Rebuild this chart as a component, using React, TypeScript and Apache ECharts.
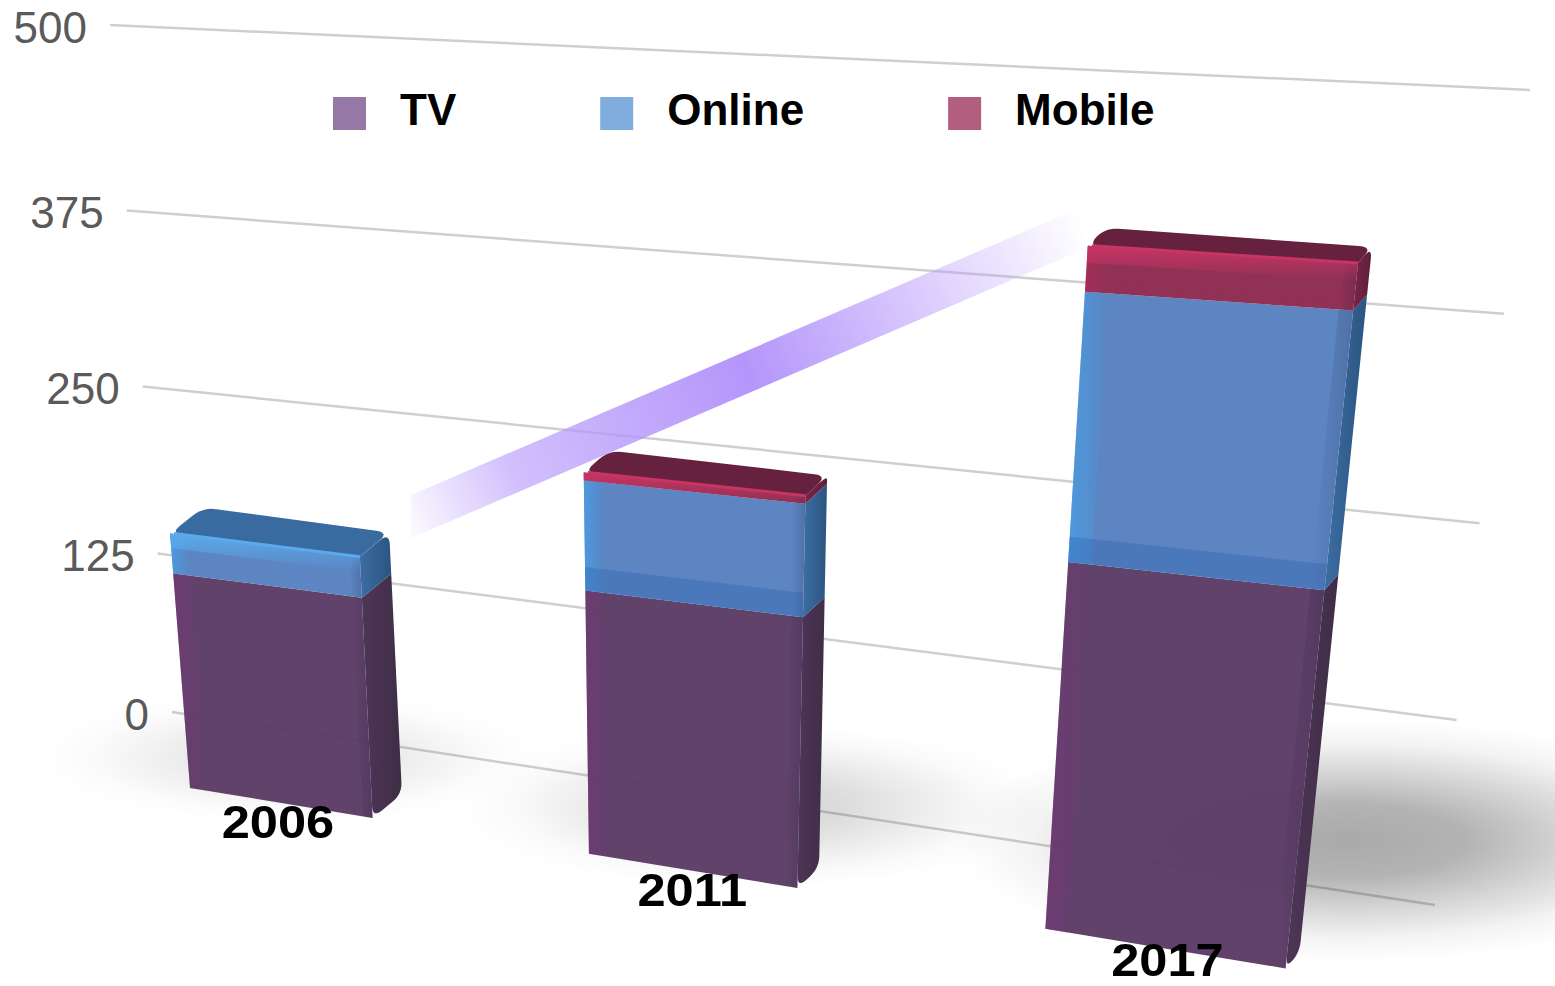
import React, { useEffect, useRef } from "react";
import * as echarts from "echarts";

// Ad spend by channel, stacked per year
const years = ["2006", "2011", "2017"];
const tvValues = [145, 168, 220];
const onlineValues = [27, 70, 160];
const mobileValues = [0, 5, 27];
const yTicks = [0, 125, 250, 375, 500];
const legendNames = ["TV", "Online", "Mobile"];

const WIDTH = 1555;
const HEIGHT = 986;
const Y_MAX = 500;
const BAR_RATIO = 0.474;
const FONT = '"Liberation Sans", Arial, sans-serif';
// Square swatch sitting low in a taller symbol box, so it hangs below the legend text's centre
const SWATCH = "path://M0,0 L0,0 M0,9 L33,9 L33,42 L0,42 Z";

type Pt = [number, number];

// Projective map of the unit square onto a quad given as (0,0), (1,0), (1,1), (0,1)
function homography(p0: Pt, p1: Pt, p2: Pt, p3: Pt) {
  const dx1 = p1[0] - p2[0];
  const dx2 = p3[0] - p2[0];
  const dx3 = p0[0] - p1[0] + p2[0] - p3[0];
  const dy1 = p1[1] - p2[1];
  const dy2 = p3[1] - p2[1];
  const dy3 = p0[1] - p1[1] + p2[1] - p3[1];
  const det = dx1 * dy2 - dx2 * dy1;
  const g = (dx3 * dy2 - dx2 * dy3) / det;
  const h = (dx1 * dy3 - dx3 * dy1) / det;
  const a = p1[0] - p0[0] + g * p1[0];
  const b = p3[0] - p0[0] + h * p3[0];
  const d = p1[1] - p0[1] + g * p1[1];
  const e = p3[1] - p0[1] + h * p3[1];
  return (u: number, v: number): Pt => {
    const w = g * u + h * v + 1;
    return [(a * u + b * v + p0[0]) / w, (d * u + e * v + p0[1]) / w];
  };
}

// Tilted wall carrying the gridlines, and the plane of the bars' front faces
const wall = homography([172, 712], [1435, 905], [1530, 90], [110, 25]);
const frontQuad = homography([190, 788], [1283, 968], [1372, 98], [132, 48]);

// Front faces keep an even height per unit, so the value scale is straightened along each edge
const FRONT_K = 0.1074;
const front = (u: number, v: number): Pt => frontQuad(u, v / (1 - FRONT_K + FRONT_K * v));

const toPlaneU = (px: number, sys: any) => ((px - sys.x) / sys.width) * 1.215 - 0.1065;
const toPlaneV = (py: number, sys: any) => (sys.y + sys.height - py) / sys.height;

// Offset from a bar's front face to its back face
const depth = (u: number): Pt => [33 - 19 * u, -26 + 10 * u];

const back = (p: Pt, u: number): Pt => {
  const d = depth(u);
  return [p[0] + d[0], p[1] + d[1]];
};

// Replaces the listed corners of a polygon by sampled quadratic curves
function rounded(points: Pt[], r: number, corners?: number[]): number[][] {
  const out: number[][] = [];
  const n = points.length;
  for (let i = 0; i < n; i++) {
    const p = points[i];
    if (corners && !corners.includes(i)) {
      out.push(p);
      continue;
    }
    const a = points[(i + n - 1) % n];
    const b = points[(i + 1) % n];
    const la = Math.hypot(a[0] - p[0], a[1] - p[1]);
    const lb = Math.hypot(b[0] - p[0], b[1] - p[1]);
    const ra = Math.min(r, la / 2);
    const rb = Math.min(r, lb / 2);
    const s: Pt = [p[0] + ((a[0] - p[0]) * ra) / la, p[1] + ((a[1] - p[1]) * ra) / la];
    const t: Pt = [p[0] + ((b[0] - p[0]) * rb) / lb, p[1] + ((b[1] - p[1]) * rb) / lb];
    for (let k = 0; k <= 6; k++) {
      const q = k / 6;
      const m = 1 - q;
      out.push([
        m * m * s[0] + 2 * m * q * p[0] + q * q * t[0],
        m * m * s[1] + 2 * m * q * p[1] + q * q * t[1],
      ]);
    }
  }
  return out;
}

const totalOf = (i: number) => tvValues[i] + onlineValues[i] + mobileValues[i];

const barFaces = {
  TV: {
    face: "#5c3c66",
    edge: "rgba(122,52,122,0.5)",
    side: ["#4e3557", "#3f2e46"],
    cap: "#4f2f5c",
    glint: "rgba(140,90,160,0.5)",
  },
  Online: {
    face: "#5781bf",
    edge: "rgba(70,160,232,0.75)",
    side: ["#3c6da3", "#2b5480"],
    cap: "#3a6ba0",
    glint: "rgba(90,170,236,1)",
  },
  Mobile: {
    face: "#8c2a50",
    edge: "rgba(190,40,90,0.4)",
    side: ["#7a2446", "#5f1f3a"],
    cap: "#66213f",
    glint: "rgba(200,52,100,1)",
  },
} as const;

const poly = (points: number[][], style: any) => ({
  type: "polygon",
  silent: true,
  shape: { points },
  style,
});

// One stacked block: side face, front face with its shading, and the lid when it ends the stack
function segmentRenderer(name: keyof typeof barFaces) {
  const colors = barFaces[name];
  return (params: any, api: any) => {
    const cat = api.value(0);
    const lo = api.value(1);
    const hi = api.value(2);
    if (hi <= lo) return null;
    const isTop = hi === totalOf(cat);
    const sys = params.coordSys;
    const half = (api.size([1, 0])[0] * BAR_RATIO) / 2;
    const bottomPx = api.coord([cat, lo]);
    const topPx = api.coord([cat, hi]);
    const uL = toPlaneU(bottomPx[0] - half, sys);
    const uR = toPlaneU(bottomPx[0] + half, sys);
    const vB = toPlaneV(bottomPx[1], sys);
    const vT = toPlaneV(topPx[1], sys);
    const bl = front(uL, vB);
    const br = front(uR, vB);
    const tr = front(uR, vT);
    const tl = front(uL, vT);
    const children: any[] = [];

    const sidePoints: Pt[] = [br, tr, back(tr, uR), back(br, uR)];
    const sideCorners = [...(lo === 0 ? [0, 3] : []), ...(isTop ? [2] : [])];
    children.push(
      poly(rounded(sidePoints, 12, sideCorners), {
        fill: new echarts.graphic.LinearGradient(0, 0, 1, 0, [
          { offset: 0, color: colors.side[0] },
          { offset: 1, color: colors.side[1] },
        ]),
      })
    );

    children.push(poly([bl, br, tr, tl], { fill: colors.face, opacity: 0.97 }));

    // Lit strip down the left of the front face
    const stripU = uL + 0.018;
    children.push(
      poly([bl, front(stripU, vB), front(stripU, vT), tl], {
        fill: new echarts.graphic.LinearGradient(0, 0, 1, 0, [
          { offset: 0, color: colors.edge },
          { offset: 1, color: colors.edge.replace(/[\d.]+\)$/, "0)") },
        ]),
      })
    );

    // Faint rim where the front turns into the side
    const rimU = uR - 0.01;
    children.push(
      poly([front(rimU, vB), br, tr, front(rimU, vT)], {
        fill: new echarts.graphic.LinearGradient(0, 0, 1, 0, [
          { offset: 0, color: "rgba(20,20,50,0)" },
          { offset: 1, color: "rgba(20,20,50,0.18)" },
        ]),
      })
    );

    // Darker band along the foot of tall blue blocks
    if (name === "Online" && hi - lo > 50) {
      const vBand = toPlaneV(api.coord([cat, lo + 15])[1], sys);
      children.push(
        poly([bl, br, front(uR, vBand), front(uL, vBand)], { fill: "rgba(40,92,170,0.32)" })
      );
    }

    if (isTop) {
      children.push(
        poly(rounded([tl, tr, back(tr, uR), back(tl, uL)], 13, [0, 2, 3]), { fill: colors.cap })
      );
      const vShine = toPlaneV(api.coord([cat, Math.max(lo, hi - 10)])[1], sys);
      children.push(
        poly([tl, tr, front(uR, vShine), front(uL, vShine)], {
          fill: new echarts.graphic.LinearGradient(0, 0, 0, 1, [
            { offset: 0, color: colors.glint },
            { offset: 1, color: colors.glint.replace(/[\d.]+\)$/, "0)") },
          ]),
        })
      );
      children.push({
        type: "line",
        silent: true,
        shape: { x1: tl[0] + 4, y1: tl[1], x2: tr[0], y2: tr[1] },
        style: { stroke: colors.glint, lineWidth: 3 },
      });
    }
    return { type: "group", children };
  };
}

function renderWall(_params: any, api: any) {
  const value = api.value(0);
  const v = value / Y_MAX;
  const a = wall(0, v);
  const b = wall(1, v);
  return {
    type: "group",
    children: [
      {
        type: "line",
        silent: true,
        shape: { x1: a[0], y1: a[1], x2: b[0], y2: b[1] },
        style: { stroke: "#cfcfcf", lineWidth: 2.5 },
      },
      {
        type: "text",
        silent: true,
        style: {
          text: String(value),
          x: a[0] - 23,
          y: a[1] + 2,
          fill: "#5a5a5a",
          font: `44px ${FONT}`,
          textAlign: "right",
          textVerticalAlign: "middle",
        },
      },
    ],
  };
}

// Soft floor shadow cast by each bar, growing with its total
function renderShadow(params: any, api: any) {
  const cat = api.value(0);
  const total = api.value(1);
  const sys = params.coordSys;
  const foot = api.coord([cat, 0]);
  const base = front(toPlaneU(foot[0], sys), toPlaneV(foot[1], sys));
  const alpha = 0.06 + (total * total) / 600000;
  const tone = (k: number) => `rgba(0,0,0,${alpha * k})`;
  return {
    type: "ellipse",
    silent: true,
    shape: {
      cx: base[0] + 0.75 * total - 120,
      cy: base[1] - 0.265 * total,
      rx: 0.6 * total + 150,
      ry: 0.24 * total + 24,
    },
    style: {
      fill: new echarts.graphic.RadialGradient(0.5, 0.5, 0.5, [
        { offset: 0, color: tone(1) },
        { offset: 0.3, color: tone(0.88) },
        { offset: 0.55, color: tone(0.5) },
        { offset: 0.8, color: tone(0.14) },
        { offset: 1, color: tone(0) },
      ]),
    },
  };
}

// Growth ribbon running from the first bar's total to the last bar's total
function renderTrend(params: any, api: any) {
  const sys = params.coordSys;
  const half = (api.size([1, 0])[0] * BAR_RATIO) / 2;
  const firstPx = api.coord([api.value(0), api.value(1)]);
  const lastPx = api.coord([api.value(2), api.value(3)]);
  const uFirst = toPlaneU(firstPx[0] + half, sys);
  const uLast = toPlaneU(lastPx[0] - half, sys);
  const first = back(front(uFirst, toPlaneV(firstPx[1], sys)), uFirst);
  const last = back(front(uLast, toPlaneV(lastPx[1], sys)), uLast);
  const x1 = first[0] + 22;
  const y1 = first[1] - 16;
  const x2 = last[0] - 20;
  const y2 = last[1] - 1;
  const t = 21.5;
  const tint = (a: number) => `rgba(181,149,251,${a})`;
  return {
    type: "polygon",
    silent: true,
    shape: {
      points: [
        [x1, y1 - t],
        [x2, y2 - t],
        [x2, y2 + t],
        [x1, y1 + t],
      ],
    },
    style: {
      fill: new echarts.graphic.LinearGradient(
        x1,
        y1,
        x2,
        y2,
        [
          { offset: 0, color: tint(0.08) },
          { offset: 0.15, color: tint(0.6) },
          { offset: 0.5, color: tint(1) },
          { offset: 0.75, color: tint(0.5) },
          { offset: 1, color: tint(0) },
        ],
        true
      ),
    },
  };
}

function renderYear(params: any, api: any) {
  const sys = params.coordSys;
  const foot = api.coord([api.value(0), 0]);
  const p = front(toPlaneU(foot[0], sys), toPlaneV(foot[1], sys));
  return {
    type: "text",
    silent: true,
    x: p[0] - 2 + (p[0] - 280) * 0.0068,
    // Held back from the lower edge so the lowest label stays whole
    y: Math.min(p[1] + 19, HEIGHT - 26),
    scaleX: 1.1,
    style: {
      text: years[api.value(0)],
      x: 0,
      y: 0,
      fill: "#000",
      font: `bold 46px ${FONT}`,
      textAlign: "center",
      textVerticalAlign: "middle",
    },
  };
}

function stackData(values: number[], below: number[]) {
  return values.map((v, i) => [i, below[i], below[i] + v]);
}

export default function App() {
  const ref = useRef<HTMLDivElement>(null);

  useEffect(() => {
    document.body.style.margin = "0";
    const chart = echarts.init(ref.current!, undefined, { renderer: "svg" });
    const zeros = years.map(() => 0);
    const tvTops = tvValues;
    const onlineTops = tvValues.map((v, i) => v + onlineValues[i]);
    const lastIndex = years.length - 1;

    chart.setOption({
      animation: false,
      backgroundColor: "#fff",
      grid: { left: 0, right: 0, top: 0, bottom: 0 },
      xAxis: { type: "category", data: years, show: false },
      yAxis: { type: "value", min: 0, max: Y_MAX, interval: 125, show: false },
      legend: {
        left: 328,
        top: 82,
        selectedMode: false,
        icon: SWATCH,
        itemWidth: 33,
        itemHeight: 42,
        itemGap: 144,
        textStyle: {
          color: "#000",
          fontFamily: FONT,
          fontWeight: "bold",
          fontSize: 44,
          padding: [0, 0, 0, 29],
        },
        data: [
          { name: legendNames[0], itemStyle: { color: "#9678a6" } },
          { name: legendNames[1], itemStyle: { color: "#7fadde" } },
          { name: legendNames[2], itemStyle: { color: "#b25e7e" } },
        ],
      },
      series: [
        {
          type: "custom",
          name: "gridlines",
          z: 1,
          data: yTicks.map((t) => [t]),
          encode: { y: 0 },
          renderItem: renderWall,
        },
        {
          type: "custom",
          name: "shadows",
          z: 2,
          data: years.map((_, i) => [i, totalOf(i)]),
          renderItem: renderShadow,
        },
        {
          type: "custom",
          name: "trend",
          z: 3,
          data: [[0, totalOf(0), lastIndex, totalOf(lastIndex)]],
          renderItem: renderTrend,
        },
        {
          type: "custom",
          name: legendNames[0],
          z: 4,
          itemStyle: { color: "#9678a6" },
          data: stackData(tvValues, zeros),
          renderItem: segmentRenderer("TV"),
        },
        {
          type: "custom",
          name: legendNames[1],
          z: 5,
          itemStyle: { color: "#7fadde" },
          data: stackData(onlineValues, tvTops),
          renderItem: segmentRenderer("Online"),
        },
        {
          type: "custom",
          name: legendNames[2],
          z: 6,
          itemStyle: { color: "#b25e7e" },
          data: stackData(mobileValues, onlineTops),
          renderItem: segmentRenderer("Mobile"),
        },
        {
          type: "custom",
          name: "years",
          z: 7,
          data: years.map((_, i) => [i]),
          renderItem: renderYear,
        },
      ],
    });
    return () => chart.dispose();
  }, []);

  return <div ref={ref} style={{ width: WIDTH, height: HEIGHT }} />;
}
